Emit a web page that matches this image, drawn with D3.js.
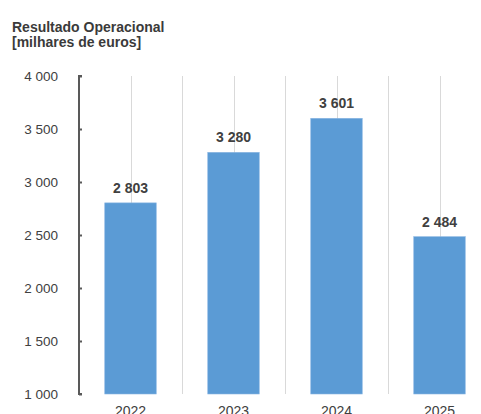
<!DOCTYPE html>
<html>
<head>
<meta charset="utf-8">
<script src="https://cdn.jsdelivr.net/npm/d3@7"></script>
<style>
  body { margin: 0; background: #fff; }
  svg { display: block; font-family: "Liberation Sans", Arial, sans-serif; }
</style>
</head>
<body>
<div id="chart"></div>
<script>
const years = ["2022", "2023", "2024", "2025"];
const values = [2803, 3280, 3601, 2484];
const yTicks = [1000, 1500, 2000, 2500, 3000, 3500, 4000];
const titleLines = ["Resultado Operacional", "[milhares de euros]"];

const width = 481;
const height = 414;
const plotLeft = 79;
const plotRight = 491;
const plotTop = 76;
const plotBottom = 394;

const locale = d3.formatLocale({ decimal: ",", thousands: " ", grouping: [3], currency: ["", " €"] });
const fmt = locale.format(",d");

const svg = d3.select("#chart")
              .append("svg")
              .attr("width", width)
              .attr("height", height);

const x = d3.scaleBand()
            .domain(years)
            .range([plotLeft, plotRight])
            .paddingInner(0.5)
            .paddingOuter(0.25);

const y = d3.scaleLinear()
            .domain([1000, 4000])
            .range([plotBottom, plotTop]);

// vertical gridlines: category centres and boundaries
const step = x.step();
const gridX = [];
years.forEach(d => {
  const c = x(d) + x.bandwidth() / 2;
  gridX.push(c, c + step / 2);
});

svg.selectAll(".grid")
   .data(gridX)
   .enter()
   .append("line")
   .attr("class", "grid")
   .attr("x1", d => Math.round(d) + 0.5)
   .attr("x2", d => Math.round(d) + 0.5)
   .attr("y1", plotTop)
   .attr("y2", plotBottom)
   .attr("stroke", "#d9d9d9")
   .attr("stroke-width", 1);

svg.selectAll(".bar")
   .data(values)
   .enter()
   .append("rect")
   .attr("class", "bar")
   .attr("x", (d, i) => x(years[i]))
   .attr("y", d => y(d))
   .attr("width", x.bandwidth())
   .attr("height", d => plotBottom - y(d))
   .attr("fill", "#5b9bd5")
   .attr("stroke", "#8ab6e2")
   .attr("stroke-width", 0.6);

svg.selectAll(".label")
   .data(values)
   .enter()
   .append("text")
   .attr("class", "label")
   .attr("x", (d, i) => x(years[i]) + x.bandwidth() / 2)
   .attr("y", d => y(d) - 10)
   .attr("text-anchor", "middle")
   .style("font-size", "14px")
   .style("font-weight", "bold")
   .style("fill", "#404040")
   .text(d => fmt(d));

const yAxis = d3.axisLeft(y)
                .tickValues(yTicks)
                .tickFormat(fmt)
                .tickSizeInner(-3)
                .tickSizeOuter(0)
                .tickPadding(21);

const gy = svg.append("g")
              .attr("transform", `translate(${plotLeft}, 0)`)
              .call(yAxis);
gy.select(".domain").attr("stroke", "#595959").attr("stroke-width", 2)
  .attr("fill", "none")
  .attr("d", `M3,${plotTop}H0V${plotBottom}H3`);
gy.selectAll(".tick line").attr("stroke", "#595959").attr("stroke-width", 2);
gy.selectAll(".tick text")
  .style("font-size", "13.5px")
  .style("fill", "#404040");
gy.attr("font-family", null).attr("font-size", null);

svg.selectAll(".xlabel")
   .data(years)
   .enter()
   .append("text")
   .attr("class", "xlabel")
   .attr("x", d => x(d) + x.bandwidth() / 2)
   .attr("y", 416)
   .attr("text-anchor", "middle")
   .style("font-size", "14px")
   .style("fill", "#404040")
   .text(d => d);

svg.selectAll(".title")
   .data(titleLines)
   .enter()
   .append("text")
   .attr("class", "title")
   .attr("x", 12)
   .attr("y", (d, i) => 32 + i * 15)
   .style("font-size", "14px")
   .style("font-weight", "bold")
   .style("fill", "#3a3a3a")
   .text(d => d);
</script>
</body>
</html>
